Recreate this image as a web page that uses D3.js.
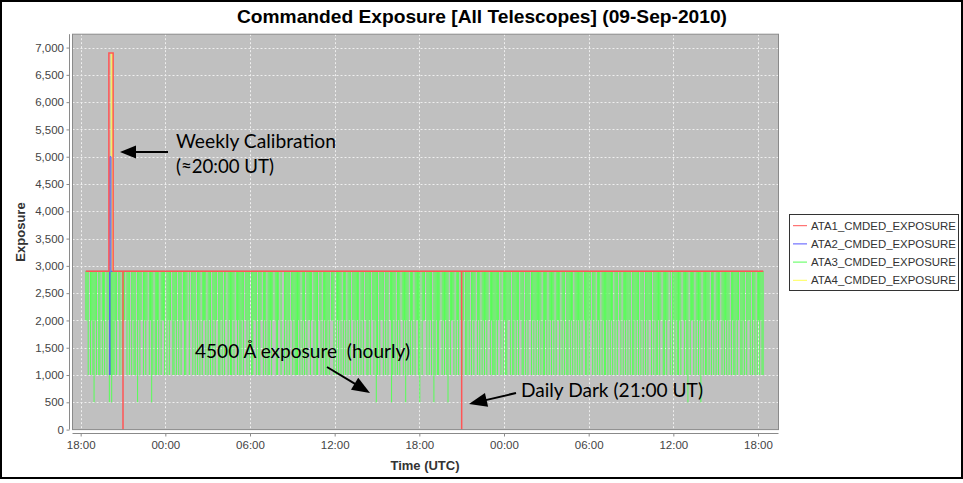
<!DOCTYPE html>
<html><head><meta charset="utf-8">
<script src="https://cdn.jsdelivr.net/npm/d3@7"></script>
<style>body{margin:0;background:#fff}svg{display:block}</style>
</head><body>
<svg id="c" width="963" height="483"></svg>
<script>
// ---------------- DATA ----------------
const chartTitle = "Commanded Exposure [All Telescopes] (09-Sep-2010)";
const yAxisTitle = "Exposure";
const xAxisTitle = "Time (UTC)";
const seriesNames = ["ATA1_CMDED_EXPOSURE","ATA2_CMDED_EXPOSURE","ATA3_CMDED_EXPOSURE","ATA4_CMDED_EXPOSURE"];
const seriesColors = ["#ff5555","#5555ff","#55ff55","#ffff55"];
const yTicks = [0,500,1000,1500,2000,2500,3000,3500,4000,4500,5000,5500,6000,6500,7000];
const xTickTimes = ["2010-09-07T18:00Z","2010-09-08T00:00Z","2010-09-08T06:00Z","2010-09-08T12:00Z",
  "2010-09-08T18:00Z","2010-09-09T00:00Z","2010-09-09T06:00Z","2010-09-09T12:00Z","2010-09-09T18:00Z"];

// ATA1 (red)
const ata1Times = ["2010-09-07T18:22Z","2010-09-07T20:00Z","2010-09-07T20:00Z","2010-09-07T20:18Z","2010-09-07T20:18Z",
  "2010-09-07T21:00Z","2010-09-07T21:00Z","2010-09-07T21:00Z","2010-09-08T21:00Z","2010-09-08T21:00Z","2010-09-08T21:00Z","2010-09-09T18:22Z"];
const ata1Values = [2900,2900,6900,6900,2900,2900,0,2900,2900,0,2900,2900];
// ATA2 (blue)
const ata2Times = ["2010-09-07T18:22Z","2010-09-07T20:04Z","2010-09-07T20:04Z","2010-09-07T20:04Z","2010-09-07T20:09Z","2010-09-07T20:09Z","2010-09-09T18:22Z"];
const ata2Values = [2900,2900,1000,5000,5000,2900,2900];
// ATA4 (yellow)
const ata4Times = ["2010-09-07T18:22Z","2010-09-07T20:10Z","2010-09-07T20:10Z","2010-09-07T20:16Z","2010-09-07T20:16Z","2010-09-09T18:22Z"];
const ata4Values = [2900,2900,6900,6900,2900,2900];
// ATA3 (green): one sample every 5 minutes from 18:22, one string per hour.
// code 0 = 2900, 1 = 2000, 2 = 1000, 3 = 500 (4500 A exposure)
const ata3Start = "2010-09-07T18:22Z";
const ata3StepMinutes = 5;
const ata3LevelValues = [2900, 2000, 1000, 500];
const ata3Hours = [
  "112021231202","202120213232","212012021102","120212203121","021210213202","212021120212",
  "102212021201","221020121202","120211202120","212102212021","021221201212","212012120221",
  "120221021202","212101221020","021212012122","212021202112","102122012021","221201120212",
  "120212021201","212120212012","212012132021","120212013212","021201213120","212021123021",
  "102121203212","210212123021","120212012102","212021210212","021212102122","212102021221",
  "120221212012","202121021212","121202212021","212021120212","022121202121","212012212102",
  "120212021221","212120212012","021212120221","212021202121","120212212102","212102021212",
  "212012123021","120212130212","212021202121","021212120212","212102212021","120212021212",
  "2"
];

// ---------------- LAYOUT ----------------
const svg = d3.select("#c");
const plot = {left:72.5, right:778.5, top:34.2, bottom:429.6};
const x = d3.scaleUtc()
  .domain([new Date("2010-09-07T17:25:17Z"), new Date("2010-09-09T19:27:07Z")])
  .range([plot.left, plot.right]);
const y = d3.scaleLinear().domain([0, 7245]).range([plot.bottom, plot.top]);
const font = "'Liberation Sans', Arial, sans-serif";

svg.append("rect").attr("width",963).attr("height",483).attr("fill","#fff");

// title
svg.append("text").attr("x",482).attr("y",23).attr("text-anchor","middle")
  .attr("font-family",font).attr("font-weight","bold").attr("font-size",19)
  .attr("textLength",490).attr("lengthAdjust","spacingAndGlyphs").attr("fill","#000").text(chartTitle);

// plot background
svg.append("rect").attr("x",plot.left).attr("y",plot.top)
  .attr("width",plot.right-plot.left).attr("height",plot.bottom-plot.top).attr("fill","#c0c0c0");

// gridlines
const xTickDates = xTickTimes.map(d=>new Date(d));
const grid = svg.append("g").attr("stroke","#ffffff").attr("stroke-width",1).attr("stroke-dasharray","2,2").attr("opacity",0.75);
grid.selectAll(".gx").data(xTickDates).join("line")
  .attr("x1",d=>Math.round(x(d))+0.5).attr("x2",d=>Math.round(x(d))+0.5).attr("y1",plot.top).attr("y2",plot.bottom);
grid.selectAll(".gy").data(yTicks).join("line")
  .attr("y1",d=>Math.round(y(d))+0.5).attr("y2",d=>Math.round(y(d))+0.5).attr("x1",plot.left).attr("x2",plot.right);

// series
const line = d3.line().x(d=>x(d[0])).y(d=>y(d[1]));
const zip = (ts, vs) => ts.map((t,i)=>[new Date(t), vs[i]]);
const ata3Codes = ata3Hours.join("");
const t0 = new Date(ata3Start).getTime(), step = ata3StepMinutes*60000;
const ata3Samples = Array.from(ata3Codes, (c,i)=>[new Date(t0 + i*step), ata3LevelValues[+c]]);

const sg = svg.append("g").attr("fill","none").attr("stroke-width",1);
function drawStepSeries(i, data){
  return sg.append("path").datum(data).attr("d",line).attr("stroke",seriesColors[i]);
}
// reverse rendering order: ATA4, ATA3, ATA2, ATA1 on top
drawStepSeries(3, zip(ata4Times,ata4Values));
sg.append("path").datum([ata3Samples[0][0], ata3Samples[ata3Samples.length-1][0]].map(t=>[t, ata3LevelValues[0]]))
  .attr("d",line).attr("stroke",seriesColors[2]);
const g3 = sg.append("g").attr("stroke",seriesColors[2]);
g3.selectAll("path").data(ata3Samples.filter(d=>d[1]!==ata3LevelValues[0])).join("path")
  .attr("d",d=>line([[d[0], ata3LevelValues[0]],[d[0], d[1]]]));
drawStepSeries(1, zip(ata2Times,ata2Values));
drawStepSeries(0, zip(ata1Times,ata1Values)).attr("stroke-width",1.5);

// plot outline
svg.append("rect").attr("x",plot.left).attr("y",plot.top)
  .attr("width",plot.right-plot.left).attr("height",plot.bottom-plot.top)
  .attr("fill","none").attr("stroke","#8a8a8a").attr("stroke-width",1);

// axes
const xAxis = svg.append("g").attr("transform","translate(0,433.5)")
  .call(d3.axisBottom(x).tickValues(xTickDates).tickFormat(d3.utcFormat("%H:%M")).tickSize(3).tickSizeOuter(0).tickPadding(4));
const yAxis = svg.append("g").attr("transform","translate(69.5,0)")
  .call(d3.axisLeft(y).tickValues(yTicks).tickFormat(d3.format(",")).tickSize(3).tickSizeOuter(0).tickPadding(2.5));
[xAxis,yAxis].forEach(a=>{
  a.select(".domain").attr("stroke","#8a8a8a");
  a.selectAll(".tick line").attr("stroke","#8a8a8a");
  a.selectAll(".tick text").attr("fill","#444").attr("font-family",font).attr("font-size",11.5);
});
xAxis.select(".domain").attr("d",`M${plot.left},0H${plot.right}`);
yAxis.select(".domain").attr("d",`M0,${plot.top}V${plot.bottom}`);

svg.append("text").attr("transform","translate(25,232) rotate(-90)").attr("text-anchor","middle")
  .attr("font-family",font).attr("font-weight","bold").attr("font-size",13).attr("fill","#333").text(yAxisTitle);
svg.append("text").attr("x",425).attr("y",470).attr("text-anchor","middle")
  .attr("font-family",font).attr("font-weight","bold").attr("font-size",13).attr("fill","#333").text(xAxisTitle);

// legend
const lg = svg.append("g");
lg.append("rect").attr("x",789.5).attr("y",214.5).attr("width",169).attr("height",76)
  .attr("fill","#fff").attr("stroke","#333").attr("stroke-width",1);
seriesNames.forEach((n,i)=>{
  const cy = 225.7 + i*18.2;
  lg.append("line").attr("x1",793).attr("x2",807).attr("y1",cy).attr("y2",cy).attr("stroke",seriesColors[i]).attr("stroke-width",1);
  lg.append("text").attr("x",811).attr("y",cy+4).attr("font-family",font).attr("font-size",11.3)
    .attr("fill","#333").attr("textLength",145).attr("lengthAdjust","spacingAndGlyphs").text(n);
});

// annotations
const afont = "Lato, 'Open Sans', sans-serif";
function ann(txt, tx, ty, len){
  svg.append("text").attr("x",tx).attr("y",ty).attr("font-family",afont).attr("font-size",19)
    .attr("fill","#000").style("white-space","pre").attr("textLength",len).attr("lengthAdjust","spacingAndGlyphs").text(txt);
}
function arrow(x1,y1,x2,y2,hl,hw){
  const a = Math.atan2(y2-y1,x2-x1), c=Math.cos(a), s=Math.sin(a);
  const bx = x2-hl*c, by = y2-hl*s;
  svg.append("line").attr("x1",x1).attr("y1",y1).attr("x2",bx+2*c).attr("y2",by+2*s).attr("stroke","#000").attr("stroke-width",2);
  svg.append("polygon").attr("fill","#000")
    .attr("points",[[x2,y2],[bx - hw/2*s, by + hw/2*c],[bx + hw/2*s, by - hw/2*c]].map(p=>p.join(",")).join(" "));
}
ann("Weekly Calibration",176,148,160);
ann("(\u224820:00 UT)",176,173,98);
arrow(168,152,120,152,16,13);
ann("4500 \u00C5 exposure  (hourly)",195,358,215);
arrow(327,367,370,393,18,14);
ann("Daily Dark (21:00 UT)",521,397,182);
arrow(516,393,469,404,18,14);

// outer frame
svg.append("rect").attr("x",1).attr("y",1).attr("width",961).attr("height",477)
  .attr("fill","none").attr("stroke","#000").attr("stroke-width",2);
</script>
</body></html>
